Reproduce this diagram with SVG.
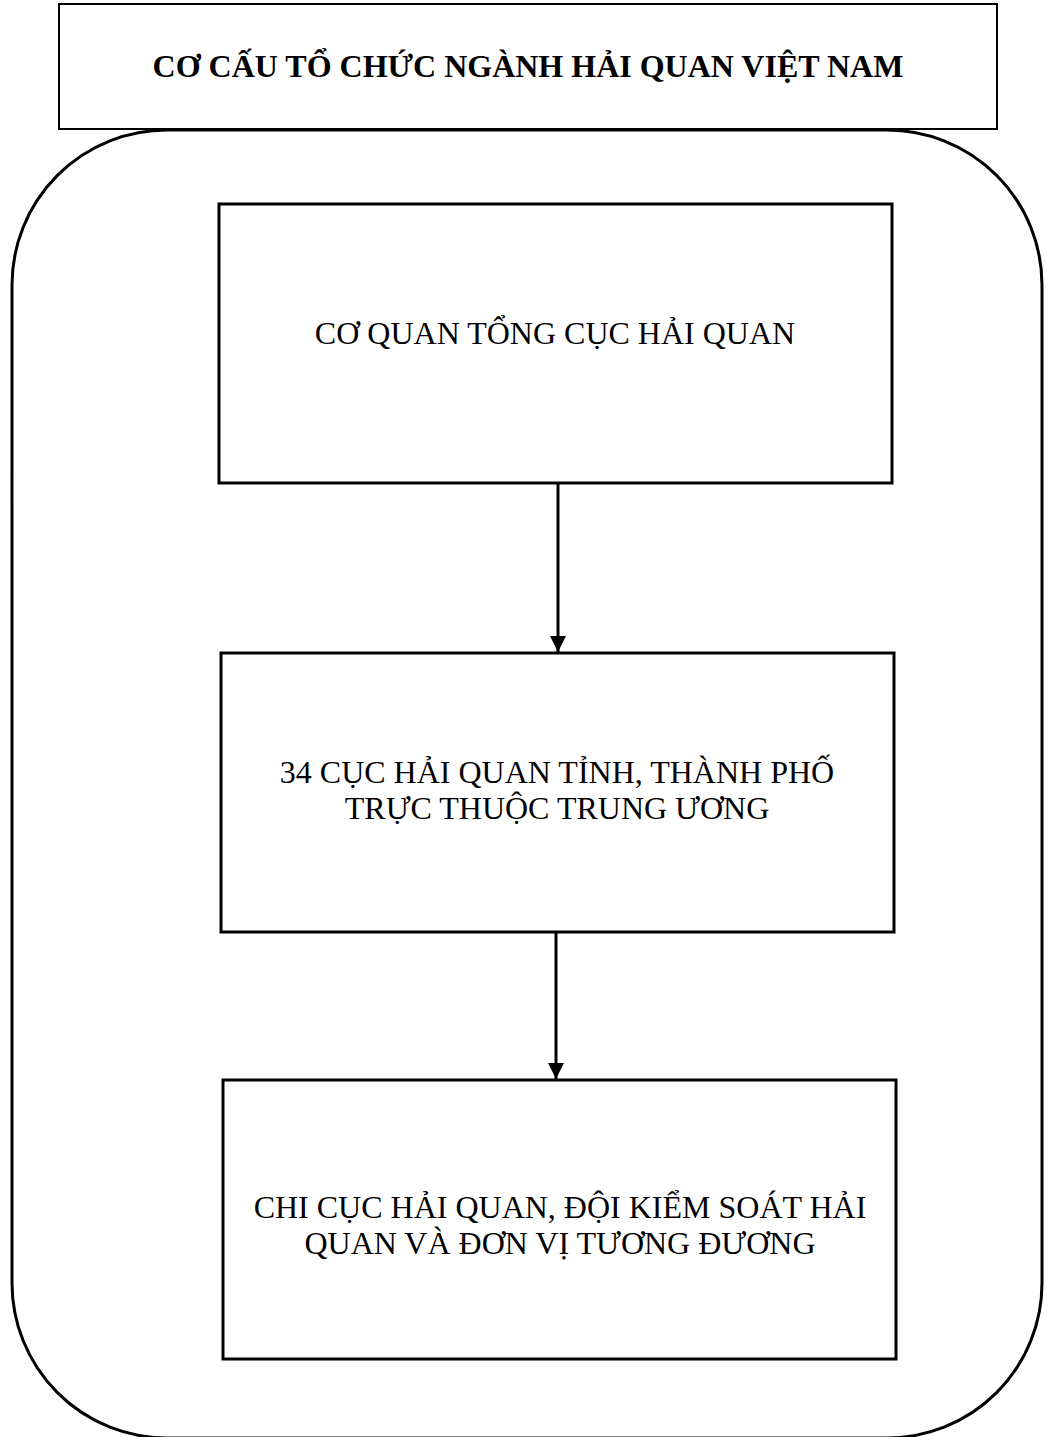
<svg xmlns="http://www.w3.org/2000/svg" width="1046" height="1437" viewBox="0 0 1046 1437">
<style>
.box{fill:#fff;stroke:#000;stroke-width:3}
.title{fill:#fff;stroke:#000;stroke-width:2}
.outer{fill:none;stroke:#000;stroke-width:3}
.t{font-family:"Liberation Serif","Times New Roman",serif;font-size:32px;fill:#000;text-anchor:middle}
.b{font-weight:bold}
.c{stroke:#000;stroke-width:3;fill:none}
</style>
<defs>
<marker id="ah" markerUnits="userSpaceOnUse" markerWidth="18" markerHeight="16" refX="16" refY="8" orient="auto">
<path d="M0,0 L16,8 L0,16 Z" fill="#000"/>
</marker>
</defs>
<g id="container">
<rect class="outer" x="12" y="130" width="1030" height="1308" rx="155" ry="155"/>
</g>
<g id="title">
<rect class="title" x="59" y="4" width="938" height="125"/>
<text class="t b" x="528" y="77">CƠ CẤU TỔ CHỨC NGÀNH HẢI QUAN VIỆT NAM</text>
</g>
<g id="node1">
<rect class="box" x="219" y="204" width="673" height="279"/>
<text class="t" x="555" y="344">CƠ QUAN TỔNG CỤC HẢI QUAN</text>
</g>
<g id="node2">
<rect class="box" x="221" y="653" width="673" height="279"/>
<text class="t" x="557" y="783">34 CỤC HẢI QUAN TỈNH, THÀNH PHỐ</text>
<text class="t" x="557" y="819">TRỰC THUỘC TRUNG ƯƠNG</text>
</g>
<g id="node3">
<rect class="box" x="223" y="1080" width="673" height="279"/>
<text class="t" x="560" y="1218">CHI CỤC HẢI QUAN, ĐỘI KIỂM SOÁT HẢI</text>
<text class="t" x="560" y="1254">QUAN VÀ ĐƠN VỊ TƯƠNG ĐƯƠNG</text>
</g>
<g id="connectors">
<line class="c" x1="558" y1="484" x2="558" y2="652" marker-end="url(#ah)"/>
<line class="c" x1="556" y1="933" x2="556" y2="1079" marker-end="url(#ah)"/>
</g>
</svg>
